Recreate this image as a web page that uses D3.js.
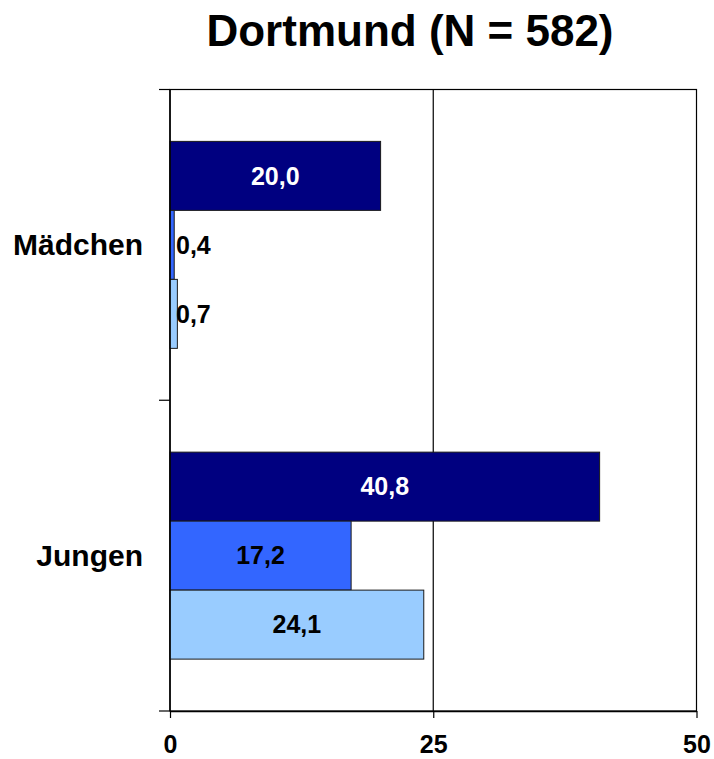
<!DOCTYPE html>
<html>
<head>
<meta charset="utf-8">
<script src="https://cdn.jsdelivr.net/npm/d3@7"></script>
<style>
  body { margin: 0; background: #fff; }
  svg text { font-family: "Liberation Sans", Arial, sans-serif; font-weight: bold; }
</style>
</head>
<body>
<svg width="714" height="759"></svg>
<script>
// data
var categories = ["Mädchen", "Jungen"];
var seriesKeys = ["s1", "s2", "s3"];
var valuesMaedchen = [20.0, 0.4, 0.7];
var valuesJungen = [40.8, 17.2, 24.1];
var xTicks = [0, 25, 50];
var colors = ["#000080", "#3366FF", "#99CCFF"];
var labelColors = ["#fff", "#000", "#000"];

var rows = [
  { cat: "Mädchen", values: valuesMaedchen },
  { cat: "Jungen", values: valuesJungen }
];

var svg = d3.select("svg"),
    margin = { top: 89.5, right: 17.5, bottom: 48, left: 170 },
    width = +svg.attr("width") - margin.left - margin.right,
    height = +svg.attr("height") - margin.top - margin.bottom;

var x = d3.scaleLinear().domain([0, 50]).range([0, width]);
var y = d3.scaleBand().domain(categories).range([0, height]).paddingInner(0).paddingOuter(0);
var yInner = d3.scaleBand().domain(seriesKeys).range([0, y.bandwidth()]).paddingInner(0).paddingOuter(0.752);
var color = d3.scaleOrdinal().domain(seriesKeys).range(colors);

// title
svg.append("text")
    .attr("x", 410)
    .attr("y", 46)
    .attr("text-anchor", "middle")
    .style("font-size", "44px")
    .text("Dortmund (N = 582)");

var g = svg.append("g").attr("transform", "translate(" + margin.left + "," + margin.top + ")");

// plot frame
g.append("rect")
    .attr("width", width)
    .attr("height", height)
    .attr("fill", "none")
    .attr("stroke", "#000")
    .attr("stroke-width", 1.2);

// gridline at 25
g.append("line")
    .attr("x1", x(25)).attr("x2", x(25))
    .attr("y1", 0).attr("y2", height)
    .attr("stroke", "#000")
    .attr("stroke-width", 1.2);

// bars
var groups = g.selectAll(".cat")
    .data(rows)
  .enter().append("g")
    .attr("class", "cat")
    .attr("transform", function(d) { return "translate(0," + y(d.cat) + ")"; });

var bars = groups.selectAll(".bar")
    .data(function(d) {
      return d.values.map(function(v, i) { return { key: seriesKeys[i], value: v, i: i }; });
    })
  .enter();

bars.append("rect")
    .attr("class", "bar")
    .attr("x", x(0))
    .attr("y", function(d) { return yInner(d.key); })
    .attr("width", function(d) { return x(d.value) - x(0); })
    .attr("height", yInner.bandwidth())
    .attr("fill", function(d) { return color(d.key); })
    .attr("stroke", "#1a1a1a")
    .attr("stroke-width", 1);

bars.append("text")
    .attr("x", function(d) {
      var w = x(d.value) - x(0);
      return w < 50 ? x(0) + 6 : x(0) + w / 2;
    })
    .attr("y", function(d) { return yInner(d.key) + yInner.bandwidth() / 2; })
    .attr("dy", "0.35em")
    .attr("text-anchor", function(d) { return (x(d.value) - x(0)) < 50 ? "start" : "middle"; })
    .attr("fill", function(d) { return labelColors[d.i]; })
    .style("font-size", "25px")
    .text(function(d) { return d3.format(".1f")(d.value).replace(".", ","); });

// left axis line and ticks at category boundaries
var yBounds = categories.map(function(c) { return y(c); }).concat([height]);
g.append("line")
    .attr("x1", 0).attr("x2", 0)
    .attr("y1", 0).attr("y2", height)
    .attr("stroke", "#000")
    .attr("stroke-width", 1.5);
g.selectAll(".ytick")
    .data(yBounds)
  .enter().append("line")
    .attr("class", "ytick")
    .attr("x1", -11).attr("x2", 0)
    .attr("y1", function(d) { return d; })
    .attr("y2", function(d) { return d; })
    .attr("stroke", "#000")
    .attr("stroke-width", 1.2);

// category labels
g.selectAll(".catlabel")
    .data(categories)
  .enter().append("text")
    .attr("class", "catlabel")
    .attr("x", -27)
    .attr("y", function(d) { return y(d) + y.bandwidth() / 2; })
    .attr("dy", "0.35em")
    .attr("text-anchor", "end")
    .style("font-size", "30px")
    .text(function(d) { return d; });

// bottom axis
var xAxis = g.append("g")
    .attr("transform", "translate(0," + height + ")")
    .call(d3.axisBottom(x).tickValues(xTicks).tickSize(7).tickSizeOuter(0).tickPadding(17));

xAxis.select(".domain").attr("stroke", "#000").attr("stroke-width", 1.5);
xAxis.selectAll(".tick line").attr("stroke", "#000").attr("stroke-width", 1.2);
xAxis.selectAll(".tick text")
    .attr("fill", "#000")
    .style("font-family", "'Liberation Sans', Arial, sans-serif")
    .style("font-weight", "bold")
    .style("font-size", "25px");
</script>
</body>
</html>
